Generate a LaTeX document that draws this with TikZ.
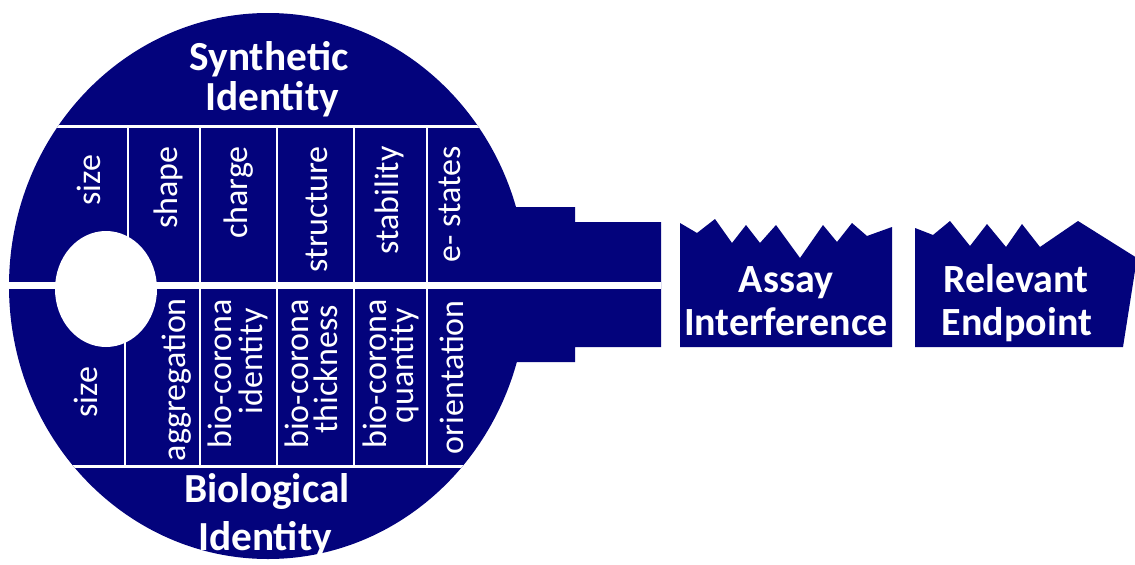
\documentclass[tikz,border=0pt]{standalone}
\usepackage{fontspec}
\setmainfont{Carlito}
\definecolor{keyblue}{RGB}{3,3,124}
\begin{document}
\begin{tikzpicture}[x=0.75pt,y=-0.75pt,
  every node/.style={text=white,inner sep=0pt},
  title/.style={font=\bfseries\fontsize{31}{36}\selectfont,anchor=base},
  tag/.style={font=\bfseries\fontsize{30}{34}\selectfont,anchor=base},
  prop/.style={font=\fontsize{25.5}{30}\selectfont,rotate=90,anchor=east},
  propc/.style={font=\fontsize{25.5}{30}\selectfont,rotate=90},
  rule/.style={draw=white,line width=2.2pt},
]
\useasboundingbox (0,0) rectangle (1135,564);

% bow of the key and its blade
\fill[keyblue] (268,286) ellipse [x radius=259, y radius=273];
\fill[keyblue] (500,207) -- (575,207) -- (575,222) -- (661,222) -- (661,347)
  -- (575,347) -- (575,362) -- (500,362) -- cycle;

% table rules inside the bow
\begin{scope}
  \clip (268,286) ellipse [x radius=259, y radius=273];
  \draw[rule] (0,126.5) -- (600,126.5);
  \draw[rule] (0,466.5) -- (600,466.5);
\end{scope}
\foreach \x in {128,200,277,354,427} \draw[rule] (\x,126) -- (\x,286);
\foreach \x in {125,200,277,354,427} \draw[rule] (\x,286) -- (\x,466);

% split between the two halves, and the key hole
\fill[white] (0,282) rectangle (661,289);
\fill[white] (106,289) ellipse [x radius=51, y radius=58];

% teeth pieces
\fill[keyblue] (680,223) -- (697,233) -- (715,219) -- (732,243) -- (746,225)
  -- (760,243) -- (776,225) -- (800,258) -- (823,225) -- (837,242)
  -- (852,223) -- (867,236) -- (892,227) -- (892,347) -- (680,347) -- cycle;
\fill[keyblue] (915,228) -- (933,235) -- (950,221) -- (970,246) -- (987,224)
  -- (1006,247) -- (1022,224) -- (1040,247) -- (1078,221) -- (1137,258)
  -- (1123,347) -- (915,347) -- cycle;

% headings
\node[title] (syn1) at (269,70) {Synthetic};
\node[title] (syn2) at (272,110) {Identity};
\node[title] (bio1) at (267,502) {Biological};
\node[title] (bio2) at (265,550) {Identity};

% synthetic properties
\node[propc] (tsize) at (89,180) {size};
\node[prop] (tshape) at (168,146) {shape};
\node[prop] (tcharge) at (239,146) {charge};
\node[prop] (tstruct) at (317,146) {structure};
\node[prop] (tstab) at (389,146) {stability};
\node[prop] (testates) at (450,146) {e- states};

% biological properties
\node[propc] (bsize) at (86,392) {size};
\node[prop] (baggr) at (177,298) {aggregation};
\node[prop] (bident1) at (220,299) {bio-corona};
\node[prop] (bident2) at (253,308) {identity};
\node[prop] (bthick1) at (297,299) {bio-corona};
\node[prop] (bthick2) at (326,305) {thickness};
\node[prop] (bquant1) at (375,299) {bio-corona};
\node[prop] (bquant2) at (404,308) {quantity};
\node[prop] (borient) at (452,300) {orientation};

% teeth labels
\node[tag] (assay) at (786,292) {Assay};
\node[tag] (interf) at (786,335) {Interference};
\node[tag] (relev) at (1016,292) {Relevant};
\node[tag] (endpt) at (1017,335) {Endpoint};
\end{tikzpicture}
\end{document}
